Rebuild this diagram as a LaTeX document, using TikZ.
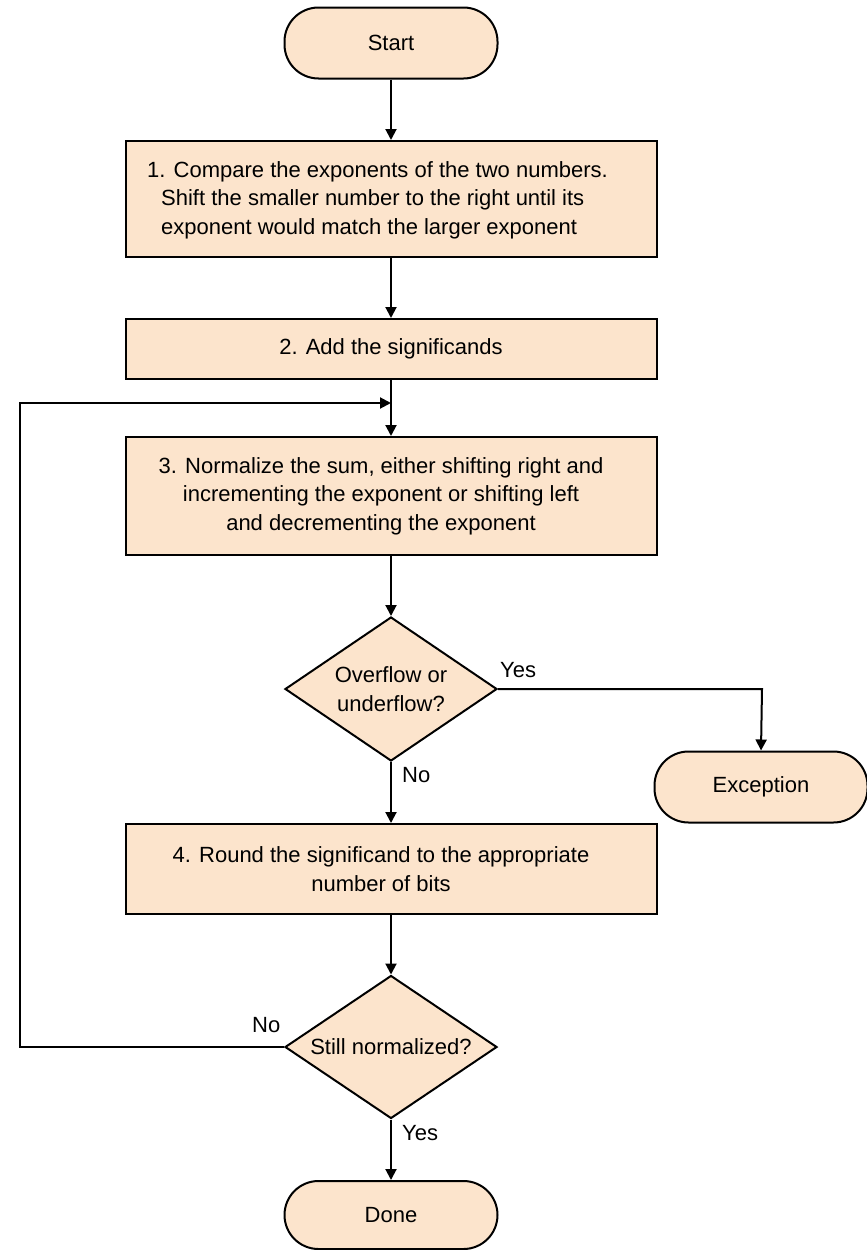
\documentclass[tikz,border=0pt]{standalone}
\usepackage{fontspec}
\setmainfont{Liberation Sans}
\usetikzlibrary{shapes.geometric,arrows.meta}
\definecolor{boxfill}{RGB}{252,228,204}
\begin{document}
\begin{tikzpicture}[x=1pt,y=-1pt,
  every node/.style={font=\fontsize{22}{28.5}\selectfont},
  procbox/.style={draw=black,line width=2pt,fill=boxfill,minimum width=531pt,inner sep=0pt,align=center},
  termbox/.style={draw=black,line width=2pt,fill=boxfill,rounded corners=34pt,minimum width=213pt,minimum height=71pt,inner sep=0pt},
  decbox/.style={draw=black,line width=2pt,fill=boxfill,diamond,minimum width=212pt,minimum height=144pt,inner sep=0pt},
  plain/.style={inner sep=0pt,align=center},
  conn/.style={line width=2pt,-{Triangle[length=11pt,width=11pt]}},
  line/.style={line width=2pt}]
\useasboundingbox (0,0) rectangle (867,1250);
\node[termbox] (start) at (391,43) {Start};
\node[procbox,minimum height=116pt] (b1) at (391,199) {};
\node[plain,align=left,anchor=west] (b1t) at (161,200) {\hspace*{-14pt}1. Compare the exponents of the two numbers.\\Shift the smaller number to the right until its\\exponent would match the larger exponent};
\node[procbox,minimum height=60pt] (b2) at (391,349) {2. Add the significands};
\node[procbox,minimum height=118pt] (b3) at (391,496) {};
\node[plain] (b3t) at (381,496) {3. Normalize the sum, either shifting right and\\incrementing the exponent or shifting left\\and decrementing the exponent};
\node[decbox] (d1) at (391,689) {};
\node[plain] (d1t) at (d1.center) {Overflow or\\underflow?};
\node[termbox] (exc) at (761,787) {Exception};
\node[procbox,minimum height=90pt] (b4) at (391,869) {};
\node[plain] (b4t) at (381,869) {4. Round the significand to the appropriate\\number of bits};
\node[decbox,minimum height=143pt] (d2) at (391,1047) {};
\node[plain] (d2t) at (d2.center) {Still normalized?};
\node[termbox,minimum height=68pt] (done) at (391,1215) {Done};
\coordinate (loopin) at (391,403);
\coordinate (yescorner) at (762,689);
\coordinate (loopcorner) at (20,1047);

\draw[conn] (start.south) -- (b1.north);
\draw[conn] (b1.south) -- (b2.north);
\draw[conn] (b2.south) -- (b3.north);
\draw[conn] (b3.south) -- (d1.north);
\draw[conn] (d1.east) -- (yescorner) -- (exc.north);
\draw[conn] (d1.south) -- (b4.north);
\draw[conn] (b4.south) -- (d2.north);
\draw[conn] (d2.south) -- (done.north);
\draw[conn] (d2.west) -- (loopcorner) |- (loopin);

\node[plain,anchor=west] (yes1) at (500,670) {Yes};
\node[plain,anchor=west] (no1) at (402,775) {No};
\node[plain,anchor=west] (no2) at (252,1025) {No};
\node[plain,anchor=west] (yes2) at (402,1133) {Yes};
\end{tikzpicture}
\end{document}
